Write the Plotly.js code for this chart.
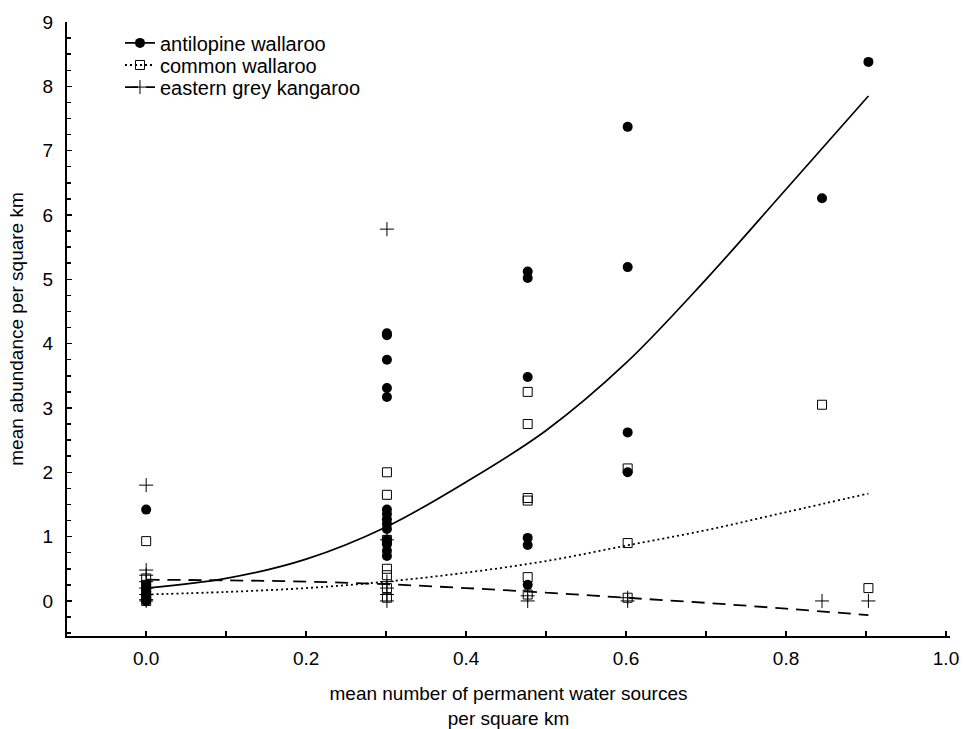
<!DOCTYPE html>
<html>
<head>
<meta charset="utf-8">
<script src="https://cdn.plot.ly/plotly-3.0.1.min.js"></script>
<style>html,body{margin:0;padding:0;background:#fff;}#chart{width:967px;height:729px;}</style>
</head>
<body>
<div id="chart"></div>
<script>
// Observed abundances (per square km) vs log water-source density
const antilopineX = [0,0,0,0,0,
  0.301,0.301,0.301,0.301,0.301,0.301,0.301,0.301,0.301,0.301,0.301,0.301,0.301,0.301,
  0.477,0.477,0.477,0.477,0.477,0.477,
  0.602,0.602,0.602,0.602,
  0.845,
  0.903];
const antilopineY = [1.42,0.25,0.15,0.05,0,
  4.16,4.13,3.75,3.31,3.17,1.42,1.35,1.27,1.2,1.12,0.95,0.88,0.78,0.7,
  5.12,5.02,3.48,0.98,0.87,0.25,
  7.37,5.19,2.62,2.0,
  6.26,
  8.38];

const commonX = [0,0,0,0,0,0,
  0.301,0.301,0.301,0.301,0.301,0.301,0.301,
  0.477,0.477,0.477,0.477,0.477,0.477,
  0.602,0.602,0.602,
  0.845,
  0.903];
const commonY = [0.93,0.35,0.25,0.15,0.05,0,
  2.0,1.65,0.95,0.5,0.4,0.2,0.05,
  3.25,2.75,1.6,1.56,0.37,0.1,
  2.06,0.9,0.05,
  3.05,
  0.2];

const easternX = [0,0,0,0,0,0,0,0,
  0.301,0.301,0.301,0.301,0.301,0.301,
  0.477,0.477,
  0.602,0.602,
  0.845,
  0.903];
const easternY = [1.8,0.48,0.4,0.3,0.2,0.1,0.02,0,
  5.78,0.95,0.3,0.2,0.1,0,
  0.08,0,
  0.05,0,
  0,
  0];

// Fitted curves
const fitX = [0,0.1,0.2,0.3,0.4,0.5,0.6,0.7,0.8,0.903];
const antilopineFit = [0.2,0.35,0.65,1.15,1.85,2.65,3.7,5.0,6.4,7.85];
const commonFit = [0.1,0.14,0.2,0.3,0.44,0.62,0.86,1.1,1.38,1.67];
const easternFit = [0.33,0.32,0.3,0.26,0.2,0.13,0.05,-0.03,-0.12,-0.22];

const seriesNames = ['antilopine wallaroo','common wallaroo','eastern grey kangaroo'];
const xTickVals = [0,0.2,0.4,0.6,0.8,1.0];
const xTickText = ['0.0','0.2','0.4','0.6','0.8','1.0'];
const yTickVals = [0,1,2,3,4,5,6,7,8,9];

const FONT = 'Arial, "Liberation Sans", sans-serif';
const circleM = {symbol:'circle', size:10, color:'#000'};
const squareM = {symbol:'square-open', size:9, color:'#000', line:{width:1, color:'#000'}};
const plusM = {symbol:'cross-thin-open', size:10, color:'#000', line:{width:1, color:'#000'}};
const solidL = {color:'#000', width:1.7, dash:'solid'};
const dotL = {color:'#000', width:1.8, dash:'2px,3px'};
const dashL = {color:'#000', width:1.8, dash:'13px,8px'};

const traces = [
  {x:fitX, y:antilopineFit, mode:'lines', line:Object.assign({shape:'spline'}, solidL), showlegend:false, hoverinfo:'skip'},
  {x:fitX, y:commonFit, mode:'lines', line:Object.assign({shape:'spline'}, dotL), showlegend:false, hoverinfo:'skip'},
  {x:fitX, y:easternFit, mode:'lines', line:Object.assign({shape:'spline'}, dashL), showlegend:false, hoverinfo:'skip'},
  {x:easternX, y:easternY, mode:'markers', marker:plusM, showlegend:false},
  {x:commonX, y:commonY, mode:'markers', marker:squareM, showlegend:false},
  {x:antilopineX, y:antilopineY, mode:'markers', marker:circleM, showlegend:false},
  // legend entries (one legend per row to match the tight row spacing)
  {x:[null], y:[null], mode:'lines+markers', name:seriesNames[0], line:solidL, marker:circleM, legend:'legend'},
  {x:[null], y:[null], mode:'lines+markers', name:seriesNames[1], line:dotL, marker:squareM, legend:'legend2'},
  {x:[null], y:[null], mode:'lines+markers', name:seriesNames[2], line:dashL, marker:plusM, legend:'legend3'}
];

function legendAt(yc){
  return {x:0.06, y:yc, xanchor:'left', yanchor:'middle', bgcolor:'rgba(0,0,0,0)',
    font:{family:FONT, size:20, color:'#000'}, itemwidth:30, borderwidth:0};
}

const layout = {
  width:967, height:729,
  margin:{l:67, r:17, t:22, b:93},
  paper_bgcolor:'#fff', plot_bgcolor:'#fff',
  font:{family:FONT, size:19, color:'#000'},
  showlegend:true,
  legend:legendAt(0.966),
  legend2:legendAt(0.930),
  legend3:legendAt(0.894),
  xaxis:{
    range:[-0.099,1.005], showgrid:false, zeroline:false,
    showline:true, linecolor:'#000', linewidth:2,
    ticks:'inside', ticklen:5, tickwidth:1.5, tickcolor:'#000',
    tickvals:xTickVals, ticktext:xTickText, ticklabelstandoff:4,
    minor:{dtick:0.1, tick0:0, ticks:'inside', ticklen:5, tickwidth:1.5, tickcolor:'#000', showgrid:false},
    tickfont:{family:FONT, size:19, color:'#000'},
    title:{text:'mean number of permanent water sources<br>per square km', font:{family:FONT, size:19, color:'#000'}, standoff:24}
  },
  yaxis:{
    range:[-0.545,9], showgrid:false, zeroline:false,
    showline:true, linecolor:'#000', linewidth:2,
    ticks:'inside', ticklen:5, tickwidth:1.5, tickcolor:'#000',
    tickvals:yTickVals, ticklabelstandoff:8,
    minor:{dtick:0.25, tick0:0, ticks:'inside', ticklen:4, tickwidth:1.5, tickcolor:'#000', showgrid:false},
    tickfont:{family:FONT, size:19, color:'#000'},
    title:{text:'mean abundance per square km', font:{family:FONT, size:19, color:'#000'}, standoff:14}
  }
};

Plotly.newPlot('chart', traces, layout, {displayModeBar:false, staticPlot:true});
</script>
</body>
</html>
